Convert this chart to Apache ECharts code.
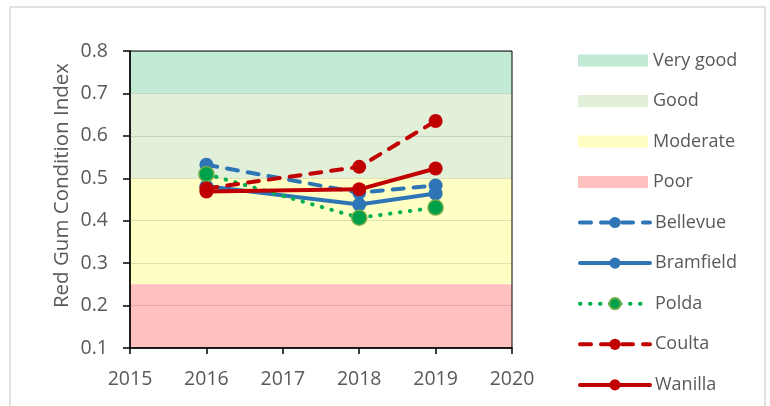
<!DOCTYPE html>
<html>
<head>
<meta charset="utf-8">
<script src="https://cdn.jsdelivr.net/npm/echarts@6/dist/echarts.min.js"></script>
<style>
  html, body { margin: 0; padding: 0; background: #fff; }
  #chart { width: 770px; height: 406px; }
</style>
</head>
<body>
<div id="chart"></div>
<script>
// condition bands
const bandNames = ['Very good', 'Good', 'Moderate', 'Poor'];
const bandLow = [0.7, 0.5, 0.25, 0.1];
const bandHigh = [0.8, 0.7, 0.5, 0.25];

// survey years and site values
const years = [2016, 2018, 2019];
const bellevue = [0.532, 0.466, 0.483];
const bramfield = [0.481, 0.438, 0.464];
const polda = [0.510, 0.407, 0.431];
const coulta = [0.476, 0.527, 0.635];
const wanilla = [0.469, 0.474, 0.523];

const textColor = '#595959';
const fontFamily = '"Open Sans", "Noto Sans", sans-serif';
const bandColors = ['#c1ebd4', '#e2f0d9', '#ffffc4', '#ffc0c0'];

function pairs(vals) {
  return years.map((y, i) => [y, vals[i]]);
}

const bandSeries = bandNames.map((name, i) => ({
  name: name,
  type: 'line',
  data: [],
  color: bandColors[i],
  silent: true,
  markArea: {
    silent: true,
    z: 1,
    itemStyle: { color: bandColors[i] },
    data: [[{ yAxis: bandLow[i] }, { yAxis: bandHigh[i] }]]
  }
}));

function site(name, vals, color, dash, extra) {
  return Object.assign({
    name: name,
    type: 'line',
    data: pairs(vals),
    color: color,
    symbol: 'circle',
    symbolSize: 14,
    lineStyle: { width: 4, type: dash, cap: 'round', color: color },
    itemStyle: { color: color },
    z: 3
  }, extra || {});
}

const siteSeries = [
  site('Bellevue', bellevue, '#2e75b6', [11, 10]),
  site('Bramfield', bramfield, '#2e75b6', 'solid'),
  site('Polda', polda, '#00b050', [0.5, 9.5], {
    symbolSize: 15,
    itemStyle: { color: '#00a04a', borderColor: '#70ad47', borderWidth: 1.5 }
  }),
  site('Coulta', coulta, '#c00000', [11, 10]),
  site('Wanilla', wanilla, '#c00000', 'solid')
];

const chart = echarts.init(document.getElementById('chart'));
chart.setOption({
  animation: false,
  textStyle: { fontFamily: fontFamily },
  grid: {
    left: 130, right: 258, top: 51, bottom: 58,
    show: true, borderColor: '#000', borderWidth: 1, z: 1.5
  },
  xAxis: {
    type: 'value',
    min: 2015, max: 2020, interval: 1,
    z: 1.6,
    axisLine: { lineStyle: { color: '#000', width: 1.5 } },
    axisTick: { show: true, length: 6, lineStyle: { color: '#000', width: 1.5 } },
    axisLabel: { color: textColor, fontSize: 19.5, margin: 21, formatter: v => String(v) },
    splitLine: { show: false }
  },
  yAxis: {
    type: 'value',
    min: 0.1, max: 0.8, interval: 0.1,
    z: 1.6,
    name: 'Red Gum Condition Index',
    nameLocation: 'middle',
    nameGap: 57,
    nameTextStyle: { color: textColor, fontSize: 20.5, padding: [0, 0, 0, 28] },
    axisLine: { show: true, lineStyle: { color: '#000', width: 1.5 } },
    axisTick: { show: true, length: 7, lineStyle: { color: '#000', width: 1.5 } },
    axisLabel: {
      color: textColor, fontSize: 19.5, margin: 22,
      formatter: v => v.toFixed(1)
    },
    splitLine: { show: true, lineStyle: { color: 'rgba(0,0,0,0.12)', width: 1 } }
  },
  legend: [
    {
      orient: 'vertical',
      left: 573, top: 45.5,
      itemWidth: 70, itemHeight: 12, itemGap: 20.5,
      icon: 'rect',
      data: bandNames,
      textStyle: { color: textColor, fontSize: 18, lineHeight: 20 }
    },
    {
      orient: 'vertical',
      left: 573, top: 207.5,
      itemWidth: 70, itemHeight: 14, itemGap: 20.6,
      data: siteSeries.map(s => s.name),
      lineStyle: { width: 4 },
      textStyle: { color: textColor, fontSize: 18, lineHeight: 20 }
    }
  ],
  graphic: [{
    type: 'rect',
    silent: true,
    shape: { x: 10, y: 7, width: 755, height: 420 },
    style: { fill: 'none', stroke: '#d9d9d9', lineWidth: 1.5 }
  }],
  series: bandSeries.concat(siteSeries)
});
</script>
</body>
</html>
